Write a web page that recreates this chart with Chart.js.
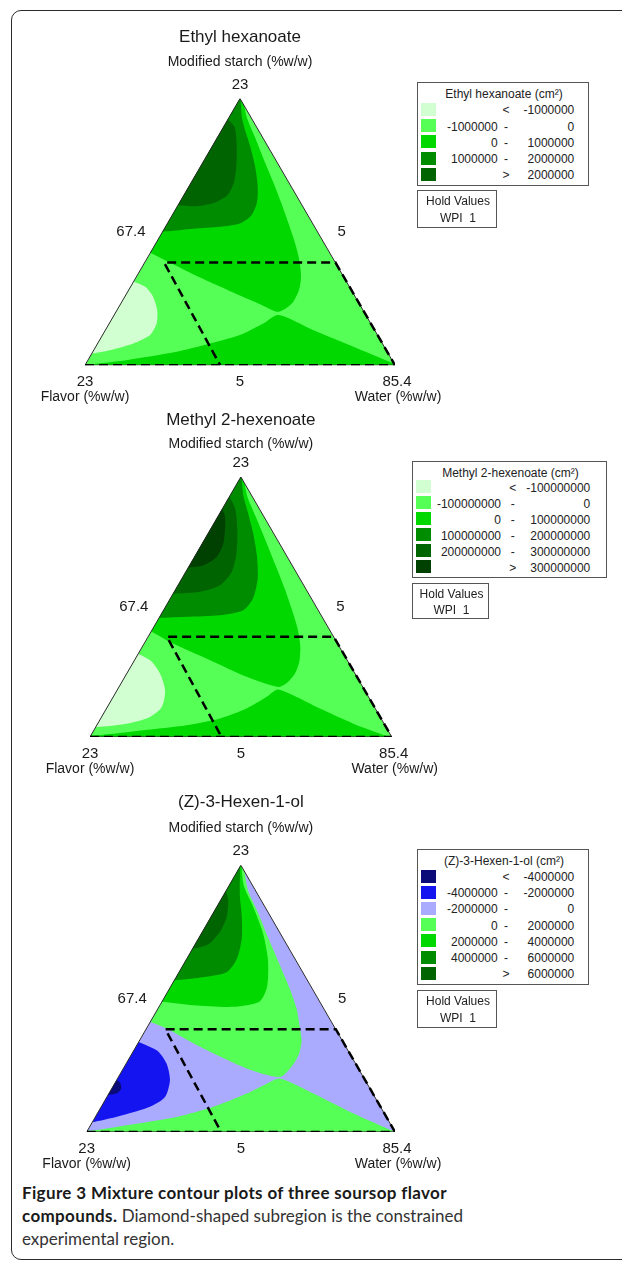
<!DOCTYPE html>
<html>
<head>
<meta charset="utf-8">
<script src="https://cdn.jsdelivr.net/npm/chart.js@4.4.1/dist/chart.umd.min.js"></script>
<style>
  html, body { margin: 0; padding: 0; background: #fff; }
  #page { position: relative; width: 622px; height: 1262px; overflow: hidden; font-family: "Liberation Sans", Arial, sans-serif; color: #1a1a1a; }
  #frame { position: absolute; left: 11px; top: 10px; width: 650px; height: 1248px; border: 1.5px solid #2b2b2b; border-radius: 10px; }
  canvas.tern { position: absolute; left: 20px; }
  .box { position: absolute; box-sizing: border-box; border: 1.5px solid #555; background: #fff; font-size: 12px; color: #222; }
  .box span { position: absolute; white-space: pre; line-height: 1; }
  .sw { position: absolute; width: 15px; height: 13px; }
  #caption { position: absolute; left: 22px; top: 1181px; width: 590px; font-family: Lato, "Open Sans", sans-serif; font-size: 17px; line-height: 23px; color: #333; }
  #caption b { color: #1a1a1a; letter-spacing: 0.35px; }
</style>
</head>
<body>
<div id="page">
  <div id="frame"></div>
  <div id="caption"><b>Figure 3 Mixture contour plots of three soursop flavor<br>compounds.</b> Diamond-shaped subregion is the constrained<br>experimental region.</div>
</div>
<script>
// ternary plot space: x runs from the Flavor vertex (0) to the Water vertex (1),
// y is the Modified starch pseudo-fraction (apex = 1)
const triangle = [[0, 0], [1, 0], [0.5, 1], [0, 0]];
const constrainedRegion = [[0, 0], [1, 0], [0.808, 0.385], [0.255, 0.385], [0.436, 0]];

const compounds = ['Ethyl hexanoate', 'Methyl 2-hexenoate', '(Z)-3-Hexen-1-ol'];
const vertexTicks = ['23', '23', '85.4'];   // starch (top), flavor (left), water (right)
const edgeTicks = ['67.4', '5', '5'];       // left edge, right edge, bottom edge
const axisNames = ['Modified starch (%w/w)', 'Flavor (%w/w)', 'Water (%w/w)'];
const holdValues = ['WPI', 1];

const ethylBreaks = [-1000000, 0, 1000000, 2000000];
const methylBreaks = [-100000000, 0, 100000000, 200000000, 300000000];
const hexenolBreaks = [-4000000, -2000000, 0, 2000000, 4000000, 6000000];

// contour band outlines (parts outside the triangle get clipped)
const ethylUpper = [[0.5,1.08],[0.52,0.937],[0.55,0.85],[0.58,0.762],[0.607,0.687],[0.632,0.612],[0.655,0.537],[0.673,0.475],[0.688,0.412],[0.697,0.337],[0.69,0.281],[0.667,0.231],[0.624,0.2],[0.565,0.229],[0.478,0.273],[0.371,0.329],[0.274,0.384],[0.17,0.445],[0.05,0.5],[0.2,1.08]];
const ethylMid = [[0.5,1.08],[0.505,0.94],[0.515,0.887],[0.532,0.825],[0.548,0.75],[0.557,0.675],[0.555,0.612],[0.537,0.562],[0.5,0.531],[0.435,0.519],[0.349,0.512],[0.258,0.502],[0.18,0.5],[0.1,0.6],[0.3,1.08]];
const ethylTop = [[0.455,0.93],[0.482,0.894],[0.489,0.837],[0.489,0.762],[0.481,0.687],[0.459,0.637],[0.419,0.61],[0.36,0.596],[0.3,0.6],[0.2,0.6],[0.35,0.95]];
const ethylBand = [[1.05,-0.02],[0.866,0.069],[0.737,0.131],[0.624,0.188],[0.575,0.156],[0.5,0.113],[0.403,0.081],[0.296,0.05],[0.134,0.019],[0.016,0.004],[-0.05,0],[-0.05,-0.1],[1.05,-0.1]];
const ethylLow = [[0.12,0.33],[0.194,0.294],[0.22,0.256],[0.233,0.206],[0.231,0.156],[0.21,0.113],[0.156,0.081],[0.091,0.059],[0.022,0.044],[-0.05,0.04],[-0.05,0.33]];

const methylUpper = [[0.5,1.08],[0.52,0.93],[0.552,0.84],[0.584,0.75],[0.615,0.66],[0.645,0.571],[0.668,0.494],[0.688,0.417],[0.697,0.35],[0.694,0.29],[0.68,0.245],[0.655,0.21],[0.624,0.192],[0.519,0.231],[0.398,0.295],[0.265,0.365],[0.204,0.404],[0.15,0.43],[0.05,0.5],[0.2,1.08]];
const methylMid = [[0.5,1.08],[0.507,0.936],[0.523,0.865],[0.54,0.788],[0.553,0.699],[0.556,0.609],[0.54,0.532],[0.508,0.487],[0.431,0.468],[0.32,0.462],[0.229,0.458],[0.15,0.46],[0.1,0.6],[0.3,1.08]];
const methylHigh = [[0.455,0.94],[0.481,0.878],[0.488,0.801],[0.486,0.712],[0.47,0.635],[0.431,0.583],[0.365,0.558],[0.276,0.551],[0.2,0.55],[0.35,0.97]];
const methylTop = [[0.43,0.9],[0.447,0.85],[0.448,0.808],[0.442,0.744],[0.42,0.692],[0.376,0.66],[0.327,0.651],[0.25,0.65],[0.3,0.9]];
const methylBand = [[1.05,-0.025],[0.873,0.051],[0.762,0.109],[0.624,0.182],[0.586,0.154],[0.519,0.109],[0.431,0.071],[0.32,0.045],[0.177,0.026],[0.022,0.006],[-0.05,0],[-0.05,-0.1],[1.05,-0.1]];
const methylLow = [[0.12,0.34],[0.199,0.295],[0.232,0.244],[0.249,0.179],[0.238,0.115],[0.199,0.077],[0.122,0.051],[0.022,0.038],[-0.05,0.035],[-0.05,0.34]];

const hexenolUpper = [[0.5,1.08],[0.522,0.911],[0.555,0.824],[0.59,0.724],[0.627,0.624],[0.659,0.536],[0.681,0.461],[0.692,0.386],[0.697,0.34],[0.688,0.29],[0.665,0.245],[0.627,0.206],[0.519,0.238],[0.368,0.319],[0.259,0.388],[0.205,0.413],[0.15,0.44],[0.05,0.5],[0.2,1.08]];
const hexenolMid = [[0.5,1.08],[0.508,0.93],[0.54,0.844],[0.572,0.744],[0.588,0.644],[0.585,0.544],[0.56,0.488],[0.476,0.469],[0.346,0.475],[0.244,0.488],[0.15,0.5],[0.1,0.6],[0.3,1.08]];
const hexenolHigh = [[0.5,1.08],[0.497,0.956],[0.497,0.881],[0.503,0.811],[0.503,0.724],[0.487,0.649],[0.454,0.599],[0.368,0.579],[0.286,0.569],[0.2,0.57],[0.15,0.7],[0.3,1.08]];
const hexenolTop = [[0.445,0.93],[0.459,0.869],[0.454,0.806],[0.432,0.75],[0.395,0.704],[0.346,0.688],[0.3,0.69],[0.35,0.95]];
const hexenolBand = [[1.05,-0.025],[0.865,0.069],[0.735,0.144],[0.627,0.2],[0.584,0.181],[0.519,0.144],[0.411,0.094],[0.292,0.056],[0.13,0.025],[0.02,0.005],[-0.05,0],[-0.05,-0.1],[1.05,-0.1]];
const hexenolLow = [[0.12,0.36],[0.227,0.306],[0.259,0.256],[0.27,0.194],[0.254,0.131],[0.205,0.094],[0.119,0.063],[0.027,0.038],[-0.05,0.03],[-0.05,0.36]];
const hexenolLowest = [[0.09,0.2],[0.108,0.185],[0.112,0.163],[0.098,0.145],[0.05,0.14],[0.05,0.2]];

// band colours, lowest level first
const ethylColors = ['#d2ffd2', '#55ff55', '#00d800', '#008c00', '#006400'];
const methylColors = ['#d2ffd2', '#55ff55', '#00d800', '#008c00', '#006400', '#004000'];
const hexenolColors = ['#0a0a78', '#1414f0', '#aaaaff', '#55ff55', '#00d800', '#008c00', '#006400'];

const FONT = '"Liberation Sans", Arial, sans-serif';
const page = document.getElementById('page');

const panels = [
  {
    name: compounds[0], breaks: ethylBreaks, colors: ethylColors,
    regions: [[triangle, 1], [ethylUpper, 2], [ethylMid, 3], [ethylTop, 4], [ethylBand, 2], [ethylLow, 0]],
    geom: { titleY: 37, subY: 62, apexY: 98.3, baseY: 365, left: 85, right: 395 },
    legend: { left: 417, top: 82, width: 172, height: 104, row0: 27.3, step: 16.25, col1: 79.7, sep: 88, col2: 156.3 },
    hold: { left: 417, top: 190, width: 80, height: 38 }
  },
  {
    name: compounds[1], breaks: methylBreaks, colors: methylColors,
    regions: [[triangle, 1], [methylUpper, 2], [methylMid, 3], [methylHigh, 4], [methylTop, 5], [methylBand, 2], [methylLow, 0]],
    geom: { titleY: 420, subY: 444, apexY: 476.7, baseY: 736.7, left: 90, right: 391.7 },
    legend: { left: 412, top: 461, width: 195, height: 117, row0: 25.7, step: 16, col1: 88, sep: 99.7, col2: 177.3 },
    hold: { left: 412, top: 582.7, width: 77, height: 36.5 }
  },
  {
    name: compounds[2], breaks: hexenolBreaks, colors: hexenolColors,
    regions: [[triangle, 2], [hexenolUpper, 3], [hexenolMid, 4], [hexenolHigh, 5], [hexenolTop, 6], [hexenolBand, 3], [hexenolLow, 1], [hexenolLowest, 0]],
    geom: { titleY: 802, subY: 828, apexY: 865, baseY: 1131.7, left: 86.7, right: 395 },
    legend: { left: 417, top: 849, width: 172, height: 136, row0: 27, step: 16.2, col1: 79.7, sep: 88, col2: 156.3 },
    hold: { left: 417, top: 990, width: 80, height: 38 }
  }
];

const asPoints = list => list.map(([x, y]) => ({ x, y }));

function buildDatasets(regions, colors) {
  const ds = regions.map(([pts, level], i) => ({
    data: asPoints(pts),
    fill: 'shape',
    backgroundColor: colors[level],
    borderWidth: 0,
    pointRadius: 0,
    tension: pts === triangle ? 0 : 0.25,
    isFill: true,
    order: 100 - i
  }));
  ds.push({ data: asPoints(triangle), fill: false, borderColor: '#2a2a2a', borderWidth: 1, pointRadius: 0, tension: 0, order: 2 });
  ds.push({ data: asPoints(constrainedRegion), fill: false, borderColor: '#000', borderWidth: 2.5, borderDash: [9, 5], pointRadius: 0, tension: 0, order: 1 });
  return ds;
}

// keep the contour fills inside the triangle, outlines are drawn unclipped
const triangleClip = {
  id: 'triangleClip',
  beforeDatasetsDraw(chart) {
    const { ctx, scales: { x, y } } = chart;
    ctx.save();
    ctx.beginPath();
    triangle.forEach(([u, v], i) => {
      const px = x.getPixelForValue(u), py = y.getPixelForValue(v);
      if (i) ctx.lineTo(px, py); else ctx.moveTo(px, py);
    });
    ctx.closePath();
    ctx.clip();
    chart.$clipped = true;
  },
  beforeDatasetDraw(chart, args) {
    if (chart.$clipped && !chart.data.datasets[args.index].isFill) {
      chart.ctx.restore();
      chart.$clipped = false;
    }
  },
  afterDatasetsDraw(chart) {
    if (chart.$clipped) { chart.ctx.restore(); chart.$clipped = false; }
  }
};

const ternaryLabels = {
  id: 'ternaryLabels',
  afterDraw(chart) {
    const { ctx, scales: { x, y } } = chart;
    const P = (u, v) => [x.getPixelForValue(u), y.getPixelForValue(v)];
    const [tx, ty] = P(0.5, 1), [lx, ly] = P(0, 0), [rx, ry] = P(1, 0);
    const [mlx, mly] = P(0.25, 0.5), [mrx, mry] = P(0.75, 0.5);
    ctx.save();
    ctx.fillStyle = '#1a1a1a';
    ctx.textBaseline = 'middle';
    ctx.font = '15px ' + FONT;
    ctx.textAlign = 'center';
    ctx.fillText(vertexTicks[0], tx, ty - 14);
    ctx.fillText(vertexTicks[1], lx, ly + 17);
    ctx.fillText(edgeTicks[2], (lx + rx) / 2, ly + 17);
    ctx.fillText(vertexTicks[2], rx + 2, ry + 17);
    ctx.textAlign = 'right';
    ctx.fillText(edgeTicks[0], mlx - 17, mly);
    ctx.textAlign = 'left';
    ctx.fillText(edgeTicks[1], mrx + 20, mry);
    ctx.font = '14px ' + FONT;
    ctx.textAlign = 'center';
    ctx.fillText(axisNames[1], lx, ly + 32);
    ctx.fillText(axisNames[2], rx + 3, ry + 32);
    ctx.restore();
  }
};

function put(parent, text, x, y, align) {
  const s = document.createElement('span');
  s.textContent = text;
  s.style.left = x + 'px';
  s.style.top = y + 'px';
  const tx = align === 'center' ? '-50%' : align === 'right' ? '-100%' : '0';
  s.style.transform = `translate(${tx}, -50%)`;
  parent.appendChild(s);
}

function makeBox(g) {
  const box = document.createElement('div');
  box.className = 'box';
  Object.assign(box.style, { left: g.left + 'px', top: g.top + 'px', width: g.width + 'px', height: g.height + 'px' });
  page.appendChild(box);
  return box;
}

function addLegend(p) {
  const g = p.legend, b = p.breaks;
  const box = makeBox(g);
  put(box, p.name + ' (cm\u00b2)', g.width / 2, 10.7, 'center');
  p.colors.forEach((c, i) => {
    const y = g.row0 + g.step * i;
    const sw = document.createElement('div');
    sw.className = 'sw';
    sw.style.background = c;
    sw.style.left = '3px';
    sw.style.top = (y - 7.5) + 'px';
    box.appendChild(sw);
    if (i === 0) {
      put(box, '<', g.sep, y, 'center');
      put(box, String(b[0]), g.col2, y, 'right');
    } else if (i === b.length) {
      put(box, '>', g.sep, y, 'center');
      put(box, String(b[b.length - 1]), g.col2, y, 'right');
    } else {
      put(box, String(b[i - 1]), g.col1, y, 'right');
      put(box, '-', g.sep, y, 'center');
      put(box, String(b[i]), g.col2, y, 'right');
    }
  });
  const h = makeBox(p.hold);
  put(h, 'Hold Values', p.hold.width / 2, 10, 'center');
  put(h, holdValues[0] + '  ' + holdValues[1], p.hold.width / 2, 26.5, 'center');
}

panels.forEach(p => {
  const g = p.geom;
  const top = g.titleY - 15.2;
  const subPadTop = (g.subY - top) - 34.8;
  const subPadBottom = (g.apexY - top) - 26.4 - subPadTop - 16.8;
  const height = Math.round(g.baseY - top + 45);

  const canvas = document.createElement('canvas');
  canvas.className = 'tern';
  canvas.width = 440;
  canvas.height = height;
  canvas.style.top = top + 'px';
  page.appendChild(canvas);

  new Chart(canvas, {
    type: 'line',
    data: { datasets: buildDatasets(p.regions, p.colors) },
    options: {
      responsive: false,
      animation: false,
      devicePixelRatio: 1,
      events: [],
      layout: { padding: { left: g.left - 20, right: 460 - g.right, top: 0, bottom: height - (g.baseY - top) } },
      scales: {
        x: { type: 'linear', min: 0, max: 1, display: false },
        y: { type: 'linear', min: 0, max: 1, display: false }
      },
      plugins: {
        legend: { display: false },
        tooltip: { enabled: false },
        title: { display: true, text: p.name, color: '#1a1a1a', font: { family: FONT, size: 17, weight: 'normal' }, padding: { top: 5, bottom: 1 } },
        subtitle: { display: true, text: axisNames[0], color: '#1a1a1a', font: { family: FONT, size: 14 }, padding: { top: subPadTop, bottom: subPadBottom } }
      }
    },
    plugins: [triangleClip, ternaryLabels]
  });

  addLegend(p);
});
</script>
</body>
</html>
